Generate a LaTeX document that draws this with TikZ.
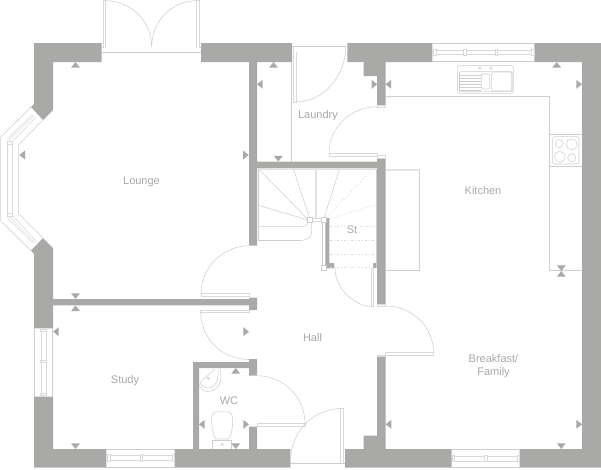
\documentclass[tikz,border=0pt]{standalone}
\usepackage{fontspec}
\setmainfont{Liberation Sans}
\definecolor{wallc}{HTML}{A9A9A8}
\definecolor{linec}{HTML}{CECECE}
\definecolor{leafc}{HTML}{D9D9D9}
\definecolor{lightc}{HTML}{E4E4E4}
\definecolor{textc}{HTML}{A8A8A8}
\tikzset{
  wall/.style={fill=wallc,draw=none},
  ln/.style={draw=linec,line width=0.55pt},
  leaf/.style={draw=leafc,line width=0.55pt},
  lnthick/.style={draw=lightc,line width=1.3pt},
  dots/.style={draw=leafc,line width=0.55pt,dash pattern=on 1.5pt off 2pt},
  mk/.style={fill=wallc,draw=none},
  room/.style={text=textc,font=\fontsize{11}{12.3}\selectfont,inner sep=0pt,align=center}
}
\newcommand\mkU[2]{\fill[mk] (#1,#2) -- ++(-4.5,5.7) -- ++(9,0) -- cycle;}
\newcommand\mkD[2]{\fill[mk] (#1,#2) -- ++(-4.5,-5.7) -- ++(9,0) -- cycle;}
\newcommand\mkL[2]{\fill[mk] (#1,#2) -- ++(5.7,-4.5) -- ++(0,9) -- cycle;}
\newcommand\mkR[2]{\fill[mk] (#1,#2) -- ++(-5.7,-4.5) -- ++(0,9) -- cycle;}
\begin{document}
\begin{tikzpicture}[x=1pt,y=-1pt]
\useasboundingbox (0,0) rectangle (601,469);
% ---- walls
\fill[wall] (34,43) -- (101.5,43) -- (101.5,62) -- (53,62) -- (53,110) -- (43,120) -- (31,107) -- (34,104) -- cycle;
\fill[wall] (201,43) -- (292,43) -- (292,62) -- (257,62) -- (257,161.7) -- (377,161.7) -- (377,158) -- (385.7,158) -- (385.7,304) -- (377,304) -- (377,168) -- (257,168) -- (257,245.7) -- (249,245.7) -- (249,62) -- (201,62) -- cycle;
\fill[wall] (347.3,43) -- (432.3,43) -- (432.3,62) -- (385.7,62) -- (385.7,105.5) -- (377,105.5) -- (377,76) -- (363.5,76) -- (363.5,62) -- (347.3,62) -- cycle;
\fill[wall] (534.3,43) -- (601,43) -- (601,467.7) -- (519.5,467.7) -- (519.5,449) -- (582,449) -- (582,62) -- (534.3,62) -- cycle;
\fill[wall] (345,449) -- (363.5,449) -- (363.5,435.5) -- (377,435.5) -- (377,356.7) -- (385.7,356.7) -- (385.7,449) -- (451.5,449) -- (451.5,467.7) -- (345,467.7) -- cycle;
\fill[wall] (43,238) -- (53,248) -- (53,299) -- (249,299) -- (249,297.7) -- (257,297.7) -- (257,310) -- (249,310) -- (249,305.4) -- (53,305.4) -- (53,328.3) -- (34,328.3) -- (34,254) -- (31,250.5) -- cycle;
\fill[wall] (34,396.7) -- (53,396.7) -- (53,449) -- (106.3,449) -- (106.3,467.7) -- (34,467.7) -- cycle;
\fill[wall] (174.7,467.7) -- (174.7,449) -- (193,449) -- (193,362) -- (249,362) -- (249,359) -- (257,359) -- (257,375.7) -- (249,375.7) -- (249,368) -- (199,368) -- (199,449) -- (249,449) -- (249,426.7) -- (257,426.7) -- (257,449) -- (290.3,449) -- (290.3,467.7) -- cycle;
\fill[wall] (325.3,218) -- (329.3,218) -- (329.3,263) -- (334,263) -- (334,268.3) -- (325.3,268.3) -- cycle;
\fill[wall] (373.3,263) -- (377,263) -- (377,268.3) -- (373.3,268.3) -- cycle;
% ---- French doors
\draw[ln] (101.5,52.3) -- (201,52.3);
\draw[leaf] (101.5,47.5) -- (103.7,47.5) -- (103.7,0.5) -- (105.7,0.5) -- (105.7,47.5);
\draw[leaf] (201,47.5) -- (198.8,47.5) -- (198.8,0.5) -- (196.3,0.5) -- (196.3,47.5);
\draw[ln] (105.7,0.7) .. controls +(25.4,0) and +(0,-25.4) .. (151.7,46.7);
\draw[ln] (197,0.7) .. controls +(-25.4,0) and +(0,-25.4) .. (151.7,46.7);
% ---- Laundry
\draw[ln] (292,46.7) -- (345.7,46.7);
\draw[leaf] (293.5,46.7) -- (293.5,102) -- (296,102) -- (296,52);
\draw[ln] (345.7,46.7) .. controls +(0,30) and +(27,0) .. (296,102);
\draw[ln] (291.7,62) -- (291.7,161.7);
% ---- Kitchen door
\draw[ln] (377,106.7) .. controls +(-26.3,0) and +(0,-26) .. (329,153.5);
\draw[leaf] (329,153.5) rectangle (377,156);
\draw[leaf] (377,155) rectangle (385.7,158);
\draw[leaf] (377,105.5) rectangle (385.7,107);
% ---- kitchen units
\draw[ln] (385.7,96.7) -- (549.7,96.7) -- (549.7,270) -- (582,270);
\draw[ln] (549.7,134.3) -- (582,134.3);
\draw[ln] (549.7,166.3) -- (582,166.3);
\draw[ln,rounded corners=1.5pt] (552.7,136.7) rectangle (579,164);
\draw[ln] (559.3,143.6) circle[radius=4];
\draw[ln] (571.7,144.3) circle[radius=5.6];
\draw[ln] (559.7,156.8) circle[radius=5.5];
\draw[ln] (571.7,157.8) circle[radius=4];
\draw[ln,rounded corners=1.5pt] (457.3,65.7) rectangle (513.7,93.3);
\draw[ln,rounded corners=1pt] (459.5,71.7) rectangle (512,91.7);
\draw[ln,rounded corners=1.5pt] (481.3,74) rectangle (489.7,89);
\draw[ln,rounded corners=1.5pt] (491.7,72) rectangle (512,91);
\foreach \yy in {75,78,81,84,87,90}{\draw[ln] (459.5,\yy) -- (481.3,\yy);}
\draw[ln] (479.7,68.3) circle[radius=1.2];
\draw[ln] (491,68.3) circle[radius=1.2];
% ---- Windows
\draw[ln] (432.3,43.5) -- (534.3,43.5);
\draw[ln] (432.3,61.5) -- (534.3,61.5);
\draw[leaf] (434,50.5) -- (532,50.5);
\draw[leaf] (434,54.5) -- (532,54.5);
\foreach \xx in {433.5,463.7,495,531.5}{\draw[leaf,fill=white] (\xx,49.5) rectangle +(2.6,6);}
\draw[ln] (451.5,449.5) -- (519.5,449.5);
\draw[ln] (451.5,467.3) -- (519.5,467.3);
\draw[leaf] (453,456) -- (518,456);
\draw[leaf] (453,461) -- (518,461);
\foreach \xx in {452,484.5,517}{\draw[leaf,fill=white] (\xx,455) rectangle +(2.4,6);}
\draw[ln] (106.3,449.5) -- (174.7,449.5);
\draw[ln] (106.3,467.3) -- (174.7,467.3);
\draw[leaf] (108,455.5) -- (173,455.5);
\draw[leaf] (108,460.7) -- (173,460.7);
\foreach \xx in {107.5,140,172}{\draw[leaf,fill=white] (\xx,454.5) rectangle +(2.4,6.5);}
\draw[ln] (34.5,328.3) -- (34.5,396.7);
\draw[ln] (52.7,328.3) -- (52.7,396.7);
\draw[leaf] (41,330) -- (41,395);
\draw[leaf] (46,330) -- (46,395);
\foreach \yy in {329,360.5,393.5}{\draw[leaf,fill=white] (40.5,\yy) rectangle +(6,2.2);}
% ---- Bay window
\draw[ln] (31,107) -- (0.7,137) -- (0.7,221) -- (31,250.5);
\draw[ln] (43,120) -- (18.3,145) -- (18.3,213.5) -- (43,238);
\draw[leaf] (7.3,141) rectangle (12,216);
\draw[leaf] (7.3,139) -- (32.5,114.5);
\draw[leaf] (12,142) -- (35.5,117.5);
\draw[leaf] (9,140) -- (34,115.5);
\draw[leaf] (7.3,218) -- (33.3,243.3);
\draw[leaf] (12,215) -- (36.7,241.7);
\draw[leaf] (9,216.5) -- (35,242.5);
\draw[leaf] (7.3,144) -- (12,144);
\draw[leaf] (7.3,213) -- (12,213);
% ---- Stairs
\draw[ln] (258.3,168.7) -- (258.3,240.5);
\draw[lnthick] (258.3,169) -- (376,169);
\draw[ln] (376,168.7) -- (376,268);
\draw[ln] (258.3,168.7) -- (308,219.5);
\draw[ln] (258.3,205.3) -- (308,220);
\draw[ln] (293.3,168.7) -- (309.5,217.5);
\draw[lnthick] (316,169) -- (316,218);
\draw[ln] (339.7,168.7) -- (324,218);
\draw[dots] (371,171) -- (326,218);
\draw[dots] (375,205) -- (328,219);
\draw[dots] (330,226.7) -- (345,226.7);
\draw[dots] (360,226.7) -- (375,226.7);
\foreach \yy in {240.3,254.3,267.7}{\draw[dots] (330,\yy) -- (375,\yy);}
\draw[ln] (258.3,226.7) -- (303,226.7) .. controls (306,226.7) and (308,224) .. (308.5,222);
\draw[ln] (258.3,240.5) -- (300,240.5) .. controls (306,240.5) and (311.7,238) .. (311.7,231) -- (311.7,222);
\draw[ln,fill=white] (307.3,217.3) rectangle (312.3,222.3);
\draw[ln,fill=white] (321.7,217.7) rectangle (326,222.3);
\draw[leaf] (312.3,218.5) -- (321.7,218.5);
\draw[leaf] (312.3,221.3) -- (321.7,221.3);
\draw[ln] (322.3,222.3) -- (322.3,265);
\draw[ln,fill=white] (321.7,265) rectangle (326,270);
% ---- door to under-stairs
\draw[ln] (335,268) .. controls +(0,21) and +(-16,0) .. (371,306.3);
\draw[leaf] (370.8,268) rectangle (372.8,306.3);
% ---- cupboard beside stairs
\draw[lnthick] (385.7,170) -- (419.5,170);
\draw[ln] (419.5,170) -- (419.5,270) -- (385.7,270);
% ---- Breakfast door
\draw[leaf] (377,304) rectangle (385.7,306);
\draw[ln] (385.7,306) .. controls +(26.3,0) and +(0,-26.3) .. (433.7,353);
\draw[leaf] (385.7,352.7) rectangle (433.7,355);
\draw[leaf] (377,355) rectangle (385.7,356.7);
% ---- Lounge door
\draw[ln] (257,245.7) -- (250,245.7) .. controls +(-27,0) and +(0,-27) .. (201,294);
\draw[leaf] (201,293.2) rectangle (249,295.8);
% ---- Study door
\draw[leaf] (200.7,310) rectangle (249,312.3);
\draw[ln] (200.7,312.3) .. controls +(0,26.5) and +(-26.5,0) .. (249,359.5);
% ---- WC door
\draw[ln] (249,375.7) -- (257,375.7) .. controls +(26.5,0) and +(0,-26.5) .. (305,423.5);
\draw[leaf] (257,423.6) rectangle (305,426);
% ---- Front door
\draw[ln] (342,408.5) .. controls +(-28.7,0) and +(0,-28.7) .. (290.5,460.5);
\draw[leaf] (340.7,408.5) rectangle (343.5,463);
\draw[ln] (290.3,463.5) -- (345,463.5);
% ---- WC fittings
\draw[ln] (220,368) .. controls (223,378) and (220,392) .. (207,391.5) .. controls (204,391.3) and (201,389) .. (199,385);
\draw[ln] (218,370) .. controls (219,379) and (216,388) .. (207,388) .. controls (204,388) and (202,386) .. (200.5,383);
\draw[ln] (199.5,383) -- (215,369);
\draw[ln] (208.3,378.3) circle[radius=1.3];
\draw[ln] (217,411.8) .. controls (213,412) and (211.7,414) .. (211.7,420) .. controls (211.7,430) and (214,438) .. (216,439) -- (228,439) .. controls (230.5,438) and (232.7,430) .. (232.7,420) .. controls (232.7,414) and (231,412) .. (227,411.8) -- cycle;
\draw[ln] (212.3,449) -- (212.3,440) -- (231.7,440) -- (231.7,449);
\draw[ln] (222.3,444.5) circle[radius=1];
% ---- markers
\mkU{75.5}{62}\mkU{273.5}{62}\mkU{556.7}{62}\mkU{75.5}{305.5}\mkU{235.7}{368}\mkU{561.3}{271}
\mkD{278.3}{161.5}\mkD{75.5}{299}\mkD{75.5}{449}\mkD{235.7}{449}\mkD{561.3}{449}\mkD{561.3}{271}
\mkL{257}{84.3}\mkL{19.3}{155}\mkL{53}{331.7}\mkL{199}{424.3}\mkL{385.5}{84.3}\mkL{385.7}{424.3}
\mkR{248.7}{155}\mkR{249}{331.7}\mkR{249}{424.3}\mkR{377.3}{84.3}\mkR{582}{84.3}\mkR{582}{424.3}
% ---- labels
\node[room] (lounge) at (141.5,182) {Lounge};
\node[room] (laundry) at (318,115.3) {Laundry};
\node[room] (kitchen) at (483,190.5) {Kitchen};
\node[room] (st) at (352,229.5) {St};
\node[room] (hall) at (312.5,337.5) {Hall};
\node[room] (study) at (125,380.5) {Study};
\node[room] (wc) at (229,401) {WC};
\node[room] (bf) at (493.5,366) {Breakfast/\\Family};
\end{tikzpicture}
\end{document}
